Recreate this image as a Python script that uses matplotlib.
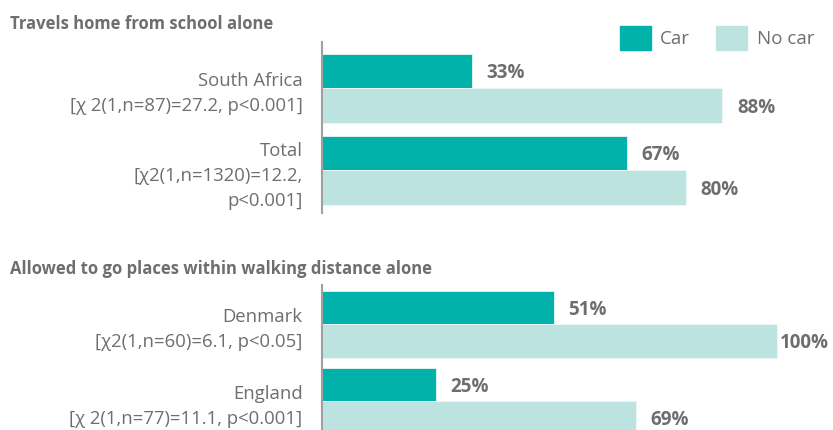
import numpy as np
import matplotlib.pyplot as plt
from matplotlib.patches import Patch

plt.rcParams['font.family'] = ['Open Sans', 'DejaVu Sans']

# data
title_top = 'Travels home from school alone'
labels_top = ['South Africa\n[χ 2(1,n=87)=27.2, p<0.001]',
              'Total\n[χ2(1,n=1320)=12.2,\np<0.001]']
car_top = [33, 67]
nocar_top = [88, 80]

title_bot = 'Allowed to go places within walking distance alone'
labels_bot = ['Denmark\n[χ2(1,n=60)=6.1, p<0.05]',
              'England\n[χ 2(1,n=77)=11.1, p<0.001]']
car_bot = [51, 25]
nocar_bot = [100, 69]

c_car = '#00b2a9'
c_nocar = '#bde3e1'
c_text = '#6d6e71'

W, H = 833, 430
fig = plt.figure(figsize=(W / 100, H / 100), dpi=100)

x0 = 322
px_per = 4.55
xmax = (W - x0) / px_per


def value_label(ax, v, yv):
    # keep the label inside the figure when the bar is long
    off = min(3.2, xmax - v - 11.6)
    ax.text(v + off, yv, f'{v}%', va='center', ha='left',
            fontsize=13.5, fontweight='bold', color=c_text)


def panel(top_px, bot_px, labels, car, nocar, h, ylim):
    ax = fig.add_axes([x0 / W, 1 - bot_px / H, (W - x0) / W, (bot_px - top_px) / H])
    y = np.arange(len(labels))
    ax.barh(y - h / 2, car, height=h, color=c_car, edgecolor='#e6f6f5', linewidth=0.6)
    ax.barh(y + h / 2, nocar, height=h, color=c_nocar, edgecolor='#eef8f8', linewidth=0.6)
    for yi, v in zip(y, car):
        value_label(ax, v, yi - h / 2 + 0.03)
    for yi, v in zip(y, nocar):
        value_label(ax, v, yi + h / 2 + 0.03)
    ax.set_xlim(0, xmax)
    ax.set_ylim(*ylim)
    ax.set_yticks(y)
    ax.set_yticklabels(labels, fontsize=13.3, color=c_text, linespacing=1.5,
                       ha='right', multialignment='right')
    ax.tick_params(axis='y', length=0, pad=14)
    ax.set_xticks([])
    for s in ['top', 'right', 'bottom']:
        ax.spines[s].set_visible(False)
    ax.spines['left'].set_color('#a0a0a0')
    ax.spines['left'].set_linewidth(1.5)
    return ax


panel(42, 213, labels_top, car_top, nocar_top, 0.42, (1.52, -0.56))
panel(285, 430, labels_bot, car_bot, nocar_bot, 0.43, (1.37, -0.51))

fig.text(10 / W, 1 - 24 / H, title_top, fontsize=12, fontweight='bold',
         color=c_text, va='center', ha='left')
fig.text(10 / W, 1 - 269 / H, title_bot, fontsize=12, fontweight='bold',
         color=c_text, va='center', ha='left')

handles = [Patch(color=c_car, label='Car'), Patch(color=c_nocar, label='No car')]
leg = fig.legend(handles=handles, loc='center', bbox_to_anchor=(717 / W, 1 - 38 / H),
                 ncol=2, frameon=False, fontsize=13.5, handlelength=1.65, handleheight=1.65,
                 handletextpad=0.5, columnspacing=1.4, borderpad=0)
for t in leg.get_texts():
    t.set_color(c_text)

fig.savefig('out.png', dpi=100)
